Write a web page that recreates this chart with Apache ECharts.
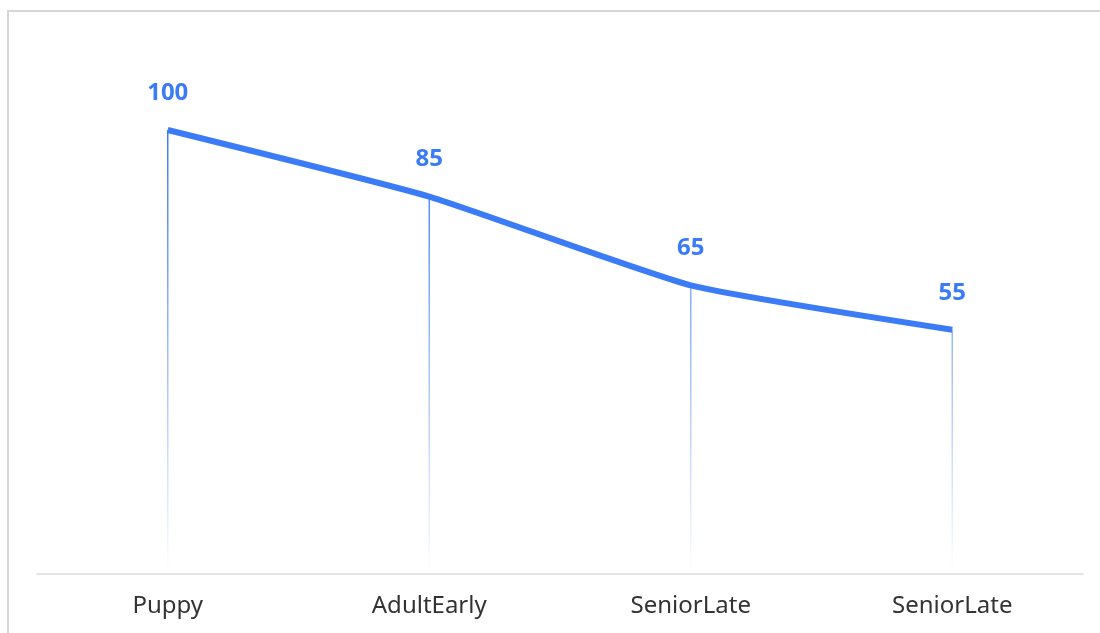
<!DOCTYPE html>
<html>
<head>
<meta charset="utf-8">
<script src="https://cdn.jsdelivr.net/npm/echarts@6/dist/echarts.min.js"></script>
<style>
html,body{margin:0;padding:0;background:#fff;overflow:hidden;}
#frame{position:absolute;left:7px;top:10px;width:1200px;height:700px;border:2px solid #d6d6d6;box-sizing:border-box;}
#chart{position:absolute;left:0;top:0;width:1100px;height:633px;}
</style>
</head>
<body>
<div id="frame"></div>
<div id="chart"></div>
<script>
const categories = ['Puppy', 'AdultEarly', 'SeniorLate', 'SeniorLate'];
const values = [100, 85, 65, 55];

const blue = '#3b7bf6';
const chart = echarts.init(document.getElementById('chart'), null, {renderer: 'canvas'});
chart.setOption({
  animation: false,
  grid: {left: 37, right: 17, top: 130, bottom: 59},
  xAxis: {
    type: 'category',
    data: categories,
    boundaryGap: true,
    axisLine: {lineStyle: {color: '#dcdcdc', width: 1.5}},
    axisTick: {show: false},
    axisLabel: {color: '#333', fontSize: 24, margin: 20, fontFamily: 'Noto Sans'}
  },
  yAxis: {
    type: 'value', min: 0, max: 100, show: false
  },
  series: [
    {
      type: 'bar',
      data: values,
      barWidth: 1.5,
      silent: true,
      itemStyle: {
        color: new echarts.graphic.LinearGradient(0, 130, 0, 574, [
          {offset: 0, color: 'rgba(59,123,246,1)'},
          {offset: 1, color: 'rgba(59,123,246,0)'}
        ], true)
      },
      label: {
        show: true,
        position: 'top',
        distance: 25,
        color: blue,
        fontSize: 24,
        fontWeight: 'bold',
        fontFamily: 'Noto Sans'
      }
    },
    {
      type: 'line',
      data: values,
      smooth: 0.15,
      symbol: 'none',
      lineStyle: {color: blue, width: 6}
    }
  ]
});
</script>
</body>
</html>
